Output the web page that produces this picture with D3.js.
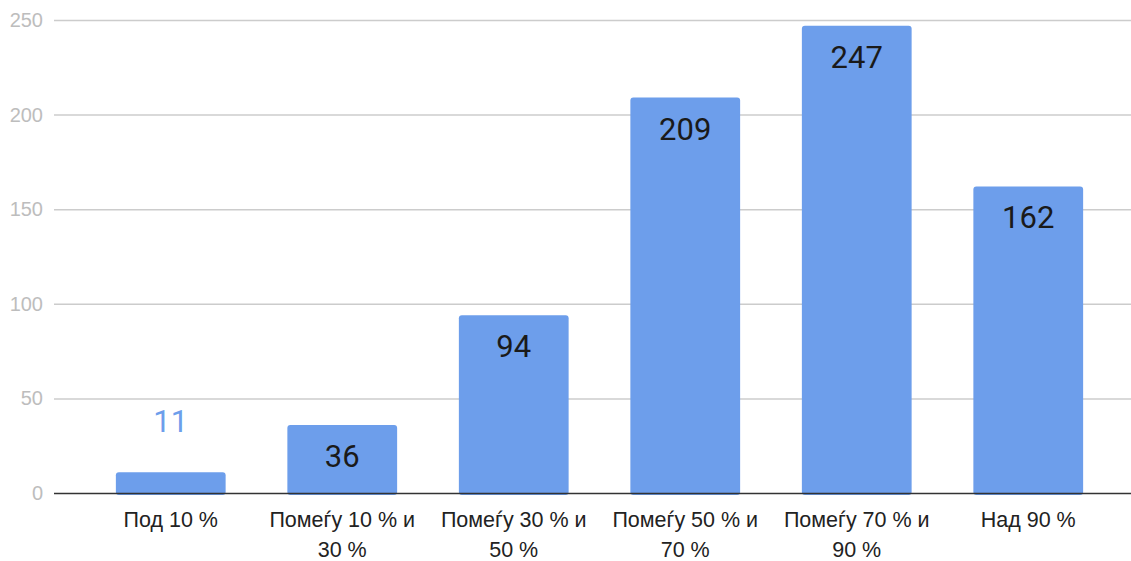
<!DOCTYPE html>
<html><head><meta charset="utf-8">
<script src="https://cdn.jsdelivr.net/npm/d3@7"></script>
<style>body{margin:0;background:#fff;}svg{display:block;font-family:Roboto,"Noto Sans",sans-serif;}</style>
</head><body>
<svg id="c" width="1131" height="561"></svg>
<script>
const categories = [["Под 10 %"],["Помеѓу 10 % и","30 %"],["Помеѓу 30 % и","50 %"],["Помеѓу 50 % и","70 %"],["Помеѓу 70 % и","90 %"],["Над 90 %"]];
const values = [11, 36, 94, 209, 247, 162];
const yTicks = [0, 50, 100, 150, 200, 250];

const svg = d3.select("#c");
const plotL = 54, plotR = 1131, y0 = 493, y1 = 20;
const x = d3.scaleBand().domain(d3.range(values.length)).range([85, 1114]).paddingInner(0.36).paddingOuter(0.18);
const y = d3.scaleLinear().domain([0, 250]).range([y0, y1]);

// grid
svg.append("g").selectAll("line").data(yTicks.filter(d=>d>0)).join("line")
  .attr("x1", plotL).attr("x2", plotR).attr("y1", d=>y(d)+0.5).attr("y2", d=>y(d)+0.5)
  .attr("stroke", "#cccccc").attr("stroke-width", 1.5);

// y tick labels
svg.append("g").selectAll("text").data(yTicks).join("text")
  .attr("x", 43).attr("y", d=>y(d)+7).attr("text-anchor","end")
  .attr("font-family", "'Liberation Sans', Arial, sans-serif")
  .attr("font-size", 20).attr("fill", "#bdbdbd").text(d=>d);

// bars
svg.append("g").selectAll("rect").data(values).join("rect")
  .attr("x", (d,i)=>x(i)).attr("width", x.bandwidth())
  .attr("y", d=>y(d)).attr("height", d=>y0 - y(d) + 2)
  .attr("rx", 3).attr("fill", "#6d9eeb");

// baseline
svg.append("line").attr("x1", plotL).attr("x2", plotR).attr("y1", y0+0.5).attr("y2", y0+0.5)
  .attr("stroke", "#333").attr("stroke-width", 1.5);

// value labels
svg.append("g").selectAll("text").data(values).join("text")
  .attr("x", (d,i)=>x(i)+x.bandwidth()/2)
  .attr("y", d=> (y0 - y(d) > 55) ? y(d)+42 : y(d)-40)
  .attr("text-anchor","middle").attr("font-size", 31)
  .attr("fill", d=> (y0 - y(d) > 55) ? "#1a1a1a" : "#6d9eeb")
  .text(d=>d);

// x labels
const xl = svg.append("g").selectAll("text").data(categories).join("text")
  .attr("text-anchor","middle").attr("font-size", 21.5).attr("fill", "#222")
  .attr("font-family", "'Liberation Sans', Arial, sans-serif");
xl.each(function(lines,i){
  const t = d3.select(this);
  lines.forEach((ln,j)=>{
    t.append("tspan").attr("x", x(i)+x.bandwidth()/2).attr("y", 527 + j*30).text(ln);
  });
});
</script>
</body></html>
